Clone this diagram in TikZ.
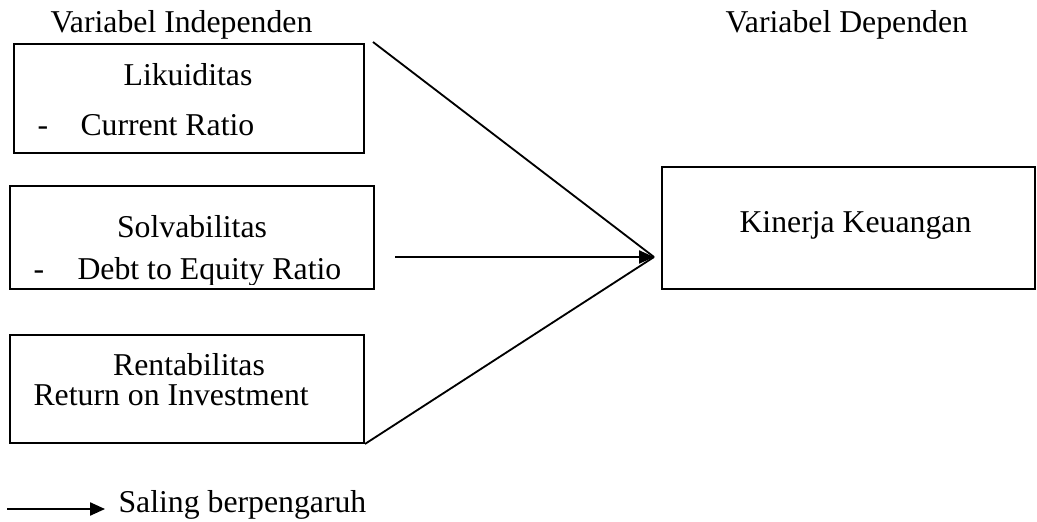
\documentclass[tikz,border=0pt]{standalone}
\usepackage{fontspec}
\setmainfont{Liberation Serif}
\usetikzlibrary{arrows.meta}

\begin{document}
\begin{tikzpicture}[x=0.381pt, y=-0.381pt,
    box/.style={rectangle, draw=black, line width=0.75pt, inner sep=0pt},
    lbl/.style={inner sep=0pt, font=\fontsize{12.1}{14}\selectfont},
    link/.style={line width=0.7pt},
    tip/.style={-{Triangle[length=5.7pt, width=5pt]}}]
    \useasboundingbox (0, 0) rectangle (1037, 521);

    %Nodes
    \node[box, minimum width=133.4pt, minimum height=41.5pt] at (189, 98.5) (likuid) {};
    \node[box, minimum width=138.7pt, minimum height=39.2pt] at (192, 237.5) (solva) {};
    \node[box, minimum width=134.9pt, minimum height=41.1pt] at (187, 389) (renta) {};
    \node[box, minimum width=142.1pt, minimum height=46.5pt] at (848.5, 228) (kinerja) {};

    \node[lbl, anchor=base west] at (50, 32) (indep) {Variabel Independen};
    \node[lbl, anchor=base west] at (725, 32) (dep) {Variabel Dependen};

    \node[lbl, anchor=base] at (188, 85) (likuidtitle) {Likuiditas};
    \node[lbl, anchor=base west] at (37, 135) (likuiddash) {-};
    \node[lbl, anchor=base west] at (80, 135) (cr) {Current Ratio};

    \node[lbl, anchor=base] at (192, 237) (solvatitle) {Solvabilitas};
    \begin{scope}
        \clip (10, 186) rectangle (374, 284);
        \node[lbl, anchor=base west] at (33, 279) (solvadash) {-};
        \node[lbl, anchor=base west] at (77, 279) (der) {Debt to Equity Ratio};
    \end{scope}

    \node[lbl, anchor=base] at (189, 375) (rentatitle) {Rentabilitas};
    \node[lbl, anchor=base west] at (33, 405) (roi) {Return on Investment};

    \node[lbl, anchor=base west] at (739, 232) (kinerjatitle) {Kinerja Keuangan};

    \node[lbl, anchor=base west] at (118, 512) (legtxt) {Saling berpengaruh};

    \coordinate (s1) at (373, 42);
    \coordinate (s2) at (395, 257);
    \coordinate (meet) at (654, 257);
    \coordinate (legstart) at (7, 509);
    \coordinate (legend) at (105, 509);

    %Lines
    \draw[link] (s1) -- (meet);
    \draw[link] (renta.south east) -- (meet);
    \draw[link, tip] (s2) -- (meet);
    \draw[link, tip] (legstart) -- (legend);

\end{tikzpicture}
\end{document}
